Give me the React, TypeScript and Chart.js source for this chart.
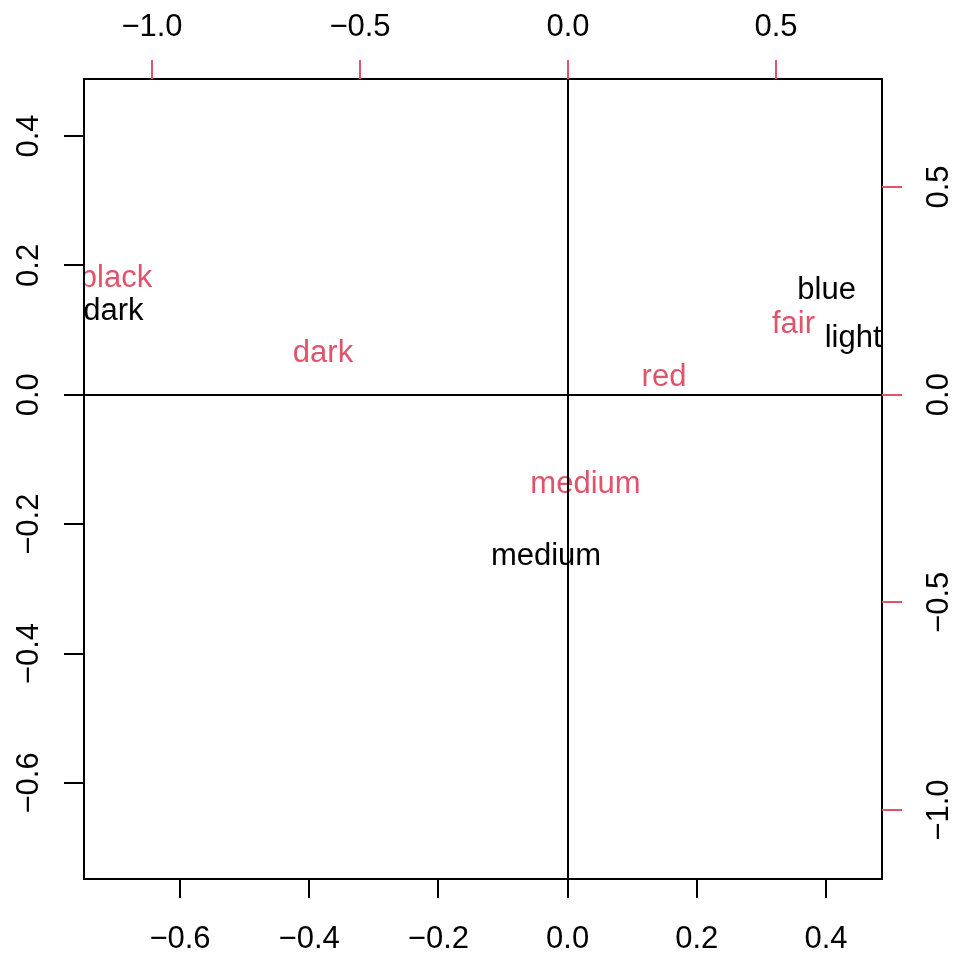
import React, { useEffect, useRef } from "react";
import { Chart, registerables } from "chart.js";

Chart.register(...registerables);

// Row (black) labels and coordinates on bottom/left axes
const rowLabels = ["dark", "blue", "light", "medium"];
const rowX = [-0.703, 0.401, 0.442, -0.0334];
const rowY = [0.131, 0.1635, 0.089, -0.2476];

// Column (red) labels and coordinates on top/right axes
const colLabels = ["black", "dark", "red", "fair", "medium"];
const colX = [-1.0865, -0.589, 0.2308, 0.542, 0.042];
const colY = [0.2834, 0.1028, 0.045, 0.1726, -0.2126];

// Tick values
const bottomTicks = [-0.6, -0.4, -0.2, 0.0, 0.2, 0.4];
const leftTicks = [0.4, 0.2, 0.0, -0.2, -0.4, -0.6];
const topTicks = [-1.0, -0.5, 0.0, 0.5];
const rightTicks = [0.5, 0.0, -0.5, -1.0];

const RED = "#DF536B";
const FONT_SIZE = 31;
const FONT = `${FONT_SIZE}px "Liberation Sans", Arial, Helvetica, sans-serif`;

const fmt = (v: number) => {
  const s = Math.abs(v).toFixed(1);
  return v < 0 ? "\u2212" + s : s;
};

const decoPlugin = {
  id: "biplotDeco",
  afterDatasetsDraw(chart: any) {
    const ctx: CanvasRenderingContext2D = chart.ctx;
    const a = chart.chartArea;
    const sx = chart.scales.x, sy = chart.scales.y, sx2 = chart.scales.x2, sy2 = chart.scales.y2;
    ctx.save();
    // text labels, clipped to plot area
    ctx.save();
    ctx.beginPath();
    ctx.rect(a.left, a.top, a.right - a.left, a.bottom - a.top);
    ctx.clip();
    ctx.font = FONT;
    ctx.textAlign = "center";
    ctx.textBaseline = "middle";
    const m0 = chart.getDatasetMeta(0);
    m0.data.forEach((el: any, i: number) => {
      ctx.fillStyle = "#000000";
      ctx.fillText(rowLabels[i], el.x, el.y + 1);
    });
    const m1 = chart.getDatasetMeta(1);
    m1.data.forEach((el: any, i: number) => {
      ctx.fillStyle = RED;
      ctx.fillText(colLabels[i], el.x, el.y + 1);
    });
    ctx.restore();

    // zero lines
    ctx.lineWidth = 2;
    ctx.strokeStyle = "#000000";
    const x0 = Math.round(sx.getPixelForValue(0));
    const y0 = Math.round(sy.getPixelForValue(0));
    ctx.beginPath();
    ctx.moveTo(a.left, y0);
    ctx.lineTo(a.right, y0);
    ctx.moveTo(x0, a.top);
    ctx.lineTo(x0, a.bottom);
    ctx.stroke();

    // box
    ctx.strokeRect(a.left, a.top, a.right - a.left, a.bottom - a.top);

    const TL = 19;
    ctx.font = FONT;
    ctx.fillStyle = "#000000";
    ctx.textAlign = "center";
    ctx.textBaseline = "alphabetic";
    const off = 0.358 * FONT_SIZE;

    // bottom axis
    ctx.strokeStyle = "#000000";
    ctx.beginPath();
    bottomTicks.forEach((v) => {
      const p = Math.round(sx.getPixelForValue(v));
      ctx.moveTo(p, a.bottom);
      ctx.lineTo(p, a.bottom + TL);
    });
    ctx.stroke();
    bottomTicks.forEach((v) => {
      const p = sx.getPixelForValue(v);
      ctx.fillText(fmt(v), p, 937 + off);
    });

    // left axis
    ctx.beginPath();
    leftTicks.forEach((v) => {
      const p = Math.round(sy.getPixelForValue(v));
      ctx.moveTo(a.left, p);
      ctx.lineTo(a.left - TL - 1, p);
    });
    ctx.stroke();
    leftTicks.forEach((v) => {
      const p = sy.getPixelForValue(v);
      ctx.save();
      ctx.translate(27, p);
      ctx.rotate(-Math.PI / 2);
      ctx.fillText(fmt(v), 0, off);
      ctx.restore();
    });

    // top axis (red ticks)
    ctx.strokeStyle = RED;
    ctx.beginPath();
    topTicks.forEach((v) => {
      const p = Math.round(sx2.getPixelForValue(v));
      ctx.moveTo(p, a.top);
      ctx.lineTo(p, a.top - TL);
    });
    ctx.stroke();
    topTicks.forEach((v) => {
      const p = sx2.getPixelForValue(v);
      ctx.fillText(fmt(v), p, 25 + off);
    });

    // right axis (red ticks)
    ctx.beginPath();
    rightTicks.forEach((v) => {
      const p = Math.round(sy2.getPixelForValue(v));
      ctx.moveTo(a.right, p);
      ctx.lineTo(a.right + TL + 1, p);
    });
    ctx.stroke();
    rightTicks.forEach((v) => {
      const p = sy2.getPixelForValue(v);
      ctx.save();
      ctx.translate(937, p);
      ctx.rotate(-Math.PI / 2);
      ctx.fillText(fmt(v), 0, off);
      ctx.restore();
    });

    ctx.restore();
  },
};

export default function App() {
  const ref = useRef<HTMLCanvasElement | null>(null);
  useEffect(() => {
    if (!ref.current) return;
    const chart = new Chart(ref.current, {
      type: "scatter",
      data: {
        datasets: [
          {
            data: rowX.map((x, i) => ({ x, y: rowY[i] })),
            xAxisID: "x",
            yAxisID: "y",
            pointRadius: 0,
            pointHoverRadius: 0,
          },
          {
            data: colX.map((x, i) => ({ x, y: colY[i] })),
            xAxisID: "x2",
            yAxisID: "y2",
            pointRadius: 0,
            pointHoverRadius: 0,
          },
        ],
      },
      options: {
        responsive: false,
        animation: false,
        events: [],
        layout: { padding: { left: 84, top: 79, right: 77, bottom: 79 } },
        plugins: { legend: { display: false }, tooltip: { enabled: false } },
        scales: {
          x: { type: "linear", position: "bottom", min: -0.7486, max: 0.4867, display: false },
          y: { type: "linear", position: "left", min: -0.7484, max: 0.488, display: false },
          x2: { type: "linear", position: "top", min: -1.1635, max: 0.7548, display: false },
          y2: { type: "linear", position: "right", min: -1.166, max: 0.76, display: false },
        },
      },
      plugins: [decoPlugin],
    });
    return () => chart.destroy();
  }, []);
  return (
    <div style={{ position: "fixed", left: 0, top: 0, width: 959, height: 958, background: "#ffffff" }}>
      <canvas ref={ref} width={959} height={958} style={{ display: "block", width: 959, height: 958 }} />
    </div>
  );
}
